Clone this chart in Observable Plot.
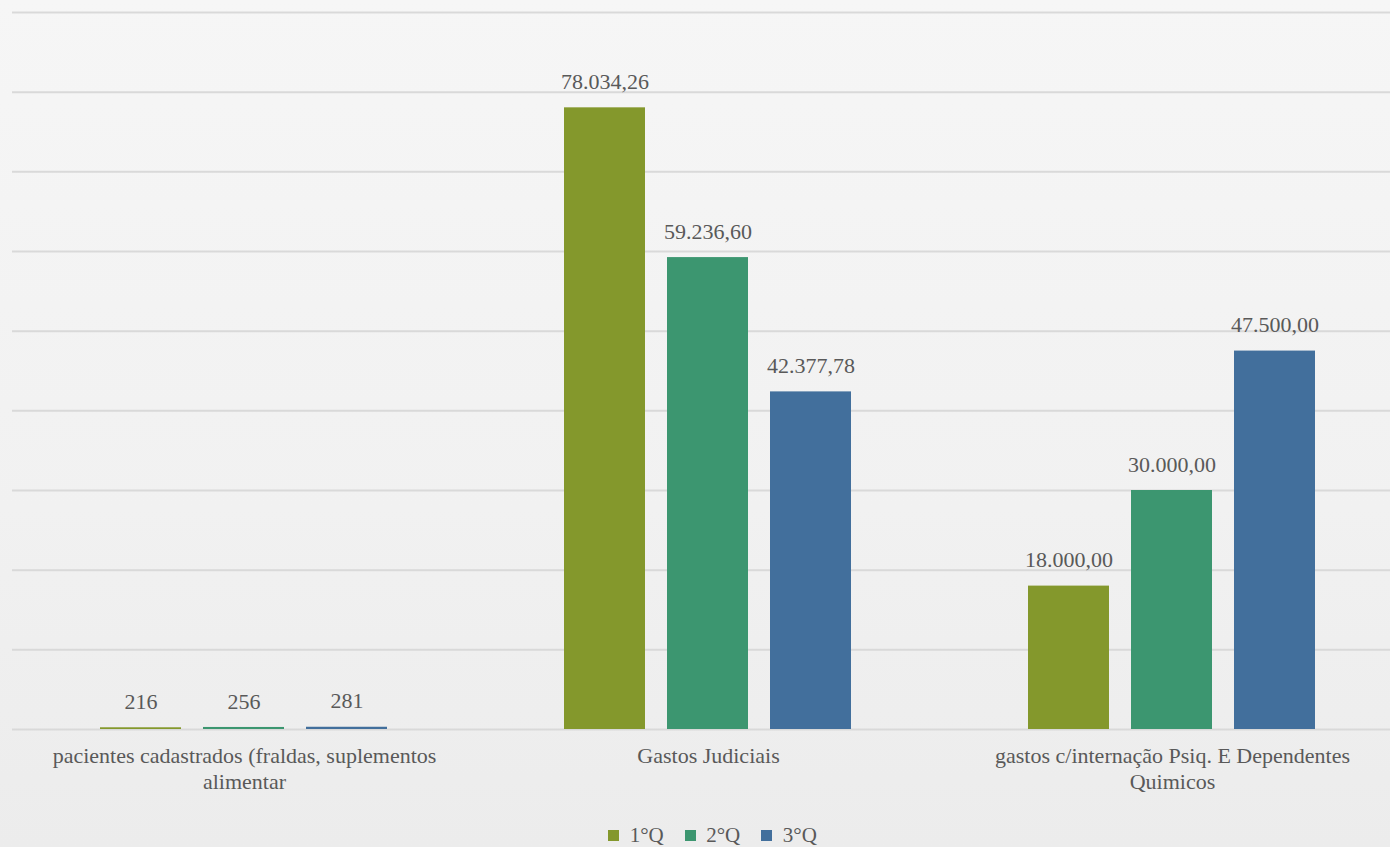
<!DOCTYPE html>
<html>
<head>
<meta charset="utf-8">
<script src="https://cdn.jsdelivr.net/npm/d3@7"></script>
<script src="https://cdn.jsdelivr.net/npm/@observablehq/plot@0.6"></script>
<style>
  html, body { margin: 0; padding: 0; overflow: hidden; }
  body {
    width: 1390px; height: 847px;
    background: linear-gradient(180deg, #f6f6f6 0%, #f1f1f1 60%, #ececec 100%);
    font-family: "Liberation Serif", serif;
  }
  #chart { width: 1404px; }
  #legend { position: absolute; left: 0; top: 819px; width: 1404px; }
</style>
</head>
<body>
<div id="chart"></div>
<div id="legend"></div>
<script>
const categories = [
  "pacientes cadastrados (fraldas, suplementos alimentar",
  "Gastos Judiciais",
  "gastos c/internação Psiq. E Dependentes Quimicos"
];
const tickLabels = [
  "pacientes cadastrados (fraldas, suplementos\nalimentar",
  "Gastos Judiciais",
  "gastos c/internação Psiq. E Dependentes\nQuimicos"
];
const series = ["1°Q", "2°Q", "3°Q"];
const q1 = [216, 78034.26, 18000];
const q2 = [256, 59236.60, 30000];
const q3 = [281, 42377.78, 47500];
const decimals = [0, 2, 2];
const yTicks = [0, 10000, 20000, 30000, 40000, 50000, 60000, 70000, 80000, 90000];
const colors = ["#84982c", "#3c9670", "#426f9c"];

const values = [q1, q2, q3];
const rows = [];
categories.forEach((c, i) => {
  series.forEach((s, j) => {
    rows.push({cat: c, serie: s, value: values[j][i], dec: decimals[i]});
  });
});

const loc = d3.formatLocale({decimal: ",", thousands: ".", grouping: [3], currency: ["", ""]});
const f0 = loc.format(",.0f");
const f2 = loc.format(",.2f");
const fmt = d => d.dec === 0 ? f0(d.value) : f2(d.value);

const chart = Plot.plot({
  width: 1404,
  height: 812,
  marginLeft: 11,
  marginRight: 0,
  marginTop: 12,
  marginBottom: 83,
  style: {background: "transparent", fontFamily: "Liberation Serif, serif", color: "#595959"},
  fx: {domain: categories, padding: 0, label: null},
  x: {domain: series, paddingInner: 0.21, paddingOuter: 0.85, axis: null},
  y: {domain: [0, 90000], axis: null},
  color: {domain: series, range: colors},
  marks: [
    Plot.ruleY(yTicks, {stroke: "#d9d9d9", strokeWidth: 2}),
    Plot.barY(rows, {fx: "cat", x: "serie", y: "value", fill: "serie"}),
    Plot.text(rows, {fx: "cat", x: "serie", y: "value", text: fmt, dy: -26, fontSize: 22, fill: "#595959"}),
    Plot.axisFx({
      anchor: "bottom", tickSize: 0, tickPadding: 15, fontSize: 22, lineHeight: 1.18,
      label: null, fill: "#595959",
      tickFormat: d => tickLabels[categories.indexOf(d)]
    })
  ]
});
document.getElementById("chart").appendChild(chart);

const leg = Plot.legend({
  color: {domain: series, range: colors},
  legend: "swatches",
  swatchSize: 11,
  style: {fontFamily: "Liberation Serif, serif", fontSize: "21px", color: "#595959", justifyContent: "center", marginLeft: "42px", columnGap: "0px"}
});
document.getElementById("legend").appendChild(leg);
</script>
</body>
</html>
